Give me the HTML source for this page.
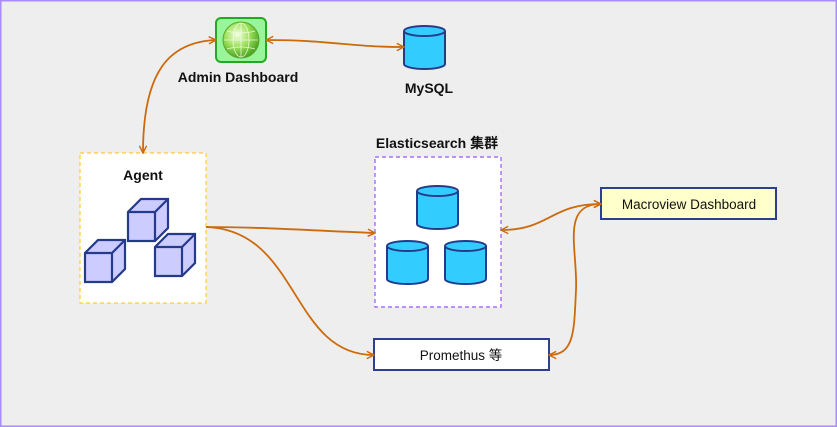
<!DOCTYPE html>
<html><head><meta charset="utf-8"><style>
html,body{margin:0;padding:0;width:837px;height:427px;overflow:hidden;background:#eeeeee}
svg{display:block}
text{font-family:"Liberation Sans","Noto Sans CJK SC",sans-serif}
</style></head><body>
<svg width="837" height="427" viewBox="0 0 837 427" xmlns="http://www.w3.org/2000/svg">
<defs>
<radialGradient id="g" cx="0.4" cy="0.35" r="0.7">
<stop offset="0" stop-color="#f4ffe0"/><stop offset="0.5" stop-color="#9be05a"/><stop offset="1" stop-color="#3f9a1a"/>
</radialGradient>
<marker id="a" viewBox="0 0 10 10" refX="9" refY="5" markerWidth="9" markerHeight="9" orient="auto-start-reverse" markerUnits="userSpaceOnUse">
<path d="M1,1 L9,5 L1,9" fill="none" stroke="#cc6a0c" stroke-width="1.6"/>
</marker>
<g id="cyl">
<path d="M0,6 L0,39 A20.5,5 0 0 0 41,39 L41,6" fill="#33ccff" stroke="#263a8a" stroke-width="2"/>
<ellipse cx="20.5" cy="6" rx="20.5" ry="5" fill="#33ccff" stroke="#263a8a" stroke-width="2"/>
</g>
<g id="cube">
<path d="M0,13 L13,0 L40,0 L40,29 L27,42 L0,42 Z" fill="#ccccff" stroke="#263a8a" stroke-width="2.2"/>
<path d="M0,13 L27,13 L40,0 M27,13 L27,42" fill="none" stroke="#263a8a" stroke-width="2.2"/>
</g>
</defs>
<rect x="0.75" y="0.75" width="835.5" height="425.5" fill="#eeeeee" stroke="#a98cf7" stroke-width="1.5"/>

<!-- Admin -->
<rect x="216" y="18" width="50" height="44" rx="5" fill="#99f599" stroke="#22aa22" stroke-width="2"/>
<circle cx="241" cy="40" r="18" fill="url(#g)" stroke="#5aa82a" stroke-width="1"/>
<g fill="none" stroke="#f0ffe0" stroke-width="0.8" opacity="0.9">
<ellipse cx="241" cy="40" rx="8" ry="17"/><line x1="241" y1="23" x2="241" y2="57"/>
<line x1="224" y1="40" x2="258" y2="40"/><path d="M227,31 Q241,35 255,31 M227,49 Q241,45 255,49"/>
</g>
<text x="238" y="82" font-size="14" font-weight="bold" text-anchor="middle" fill="#111">Admin Dashboard</text>

<!-- MySQL -->
<use href="#cyl" x="404" y="25"/>
<text x="429" y="93" font-size="14" font-weight="bold" text-anchor="middle" fill="#111">MySQL</text>

<!-- Agent -->
<rect x="80" y="153" width="126" height="150" fill="#fff" stroke="#ffcc33" stroke-width="1.2" stroke-dasharray="4,3"/>
<text x="143" y="180" font-size="14" font-weight="bold" text-anchor="middle" fill="#111">Agent</text>
<use href="#cube" x="128" y="199"/>
<use href="#cube" x="85" y="240"/>
<use href="#cube" x="155" y="234"/>

<!-- ES -->
<text x="437" y="148" font-size="14" font-weight="bold" text-anchor="middle" fill="#111">Elasticsearch 集群</text>
<rect x="375" y="157" width="126" height="150" fill="#fff" stroke="#9955ff" stroke-width="1.2" stroke-dasharray="4,3"/>
<use href="#cyl" x="417" y="185"/>
<use href="#cyl" x="387" y="240"/>
<use href="#cyl" x="445" y="240"/>

<!-- Macroview -->
<rect x="601" y="188" width="175" height="31" fill="#ffffcc" stroke="#2f3f8f" stroke-width="2"/>
<text x="689" y="209" font-size="13.5" text-anchor="middle" fill="#111">Macroview Dashboard</text>

<!-- Prometheus -->
<rect x="374" y="339" width="175" height="31" fill="#fff" stroke="#2f3f8f" stroke-width="2"/>
<text x="461" y="360" font-size="13.5" text-anchor="middle" fill="#111">Promethus 等</text>

<!-- connectors -->
<g fill="none" stroke="#cc6a0c" stroke-width="1.8">
<path d="M216,40 C170,42 143,70 143,153" marker-start="url(#a)" marker-end="url(#a)"/>
<path d="M266,40 C330,40 350,47 404,47" marker-start="url(#a)" marker-end="url(#a)"/>
<path d="M206,227 C260,227 300,230 375,233" marker-end="url(#a)"/>
<path d="M206,227 C300,230 290,355 374,355" marker-end="url(#a)"/>
<path d="M601,204 C550,204 550,230 501,230" marker-start="url(#a)" marker-end="url(#a)"/>
<path d="M601,204 C560,204 578,250 576,290 C574,330 575,355 549,355" marker-start="url(#a)" marker-end="url(#a)"/>
</g>
</svg>
</body></html>
